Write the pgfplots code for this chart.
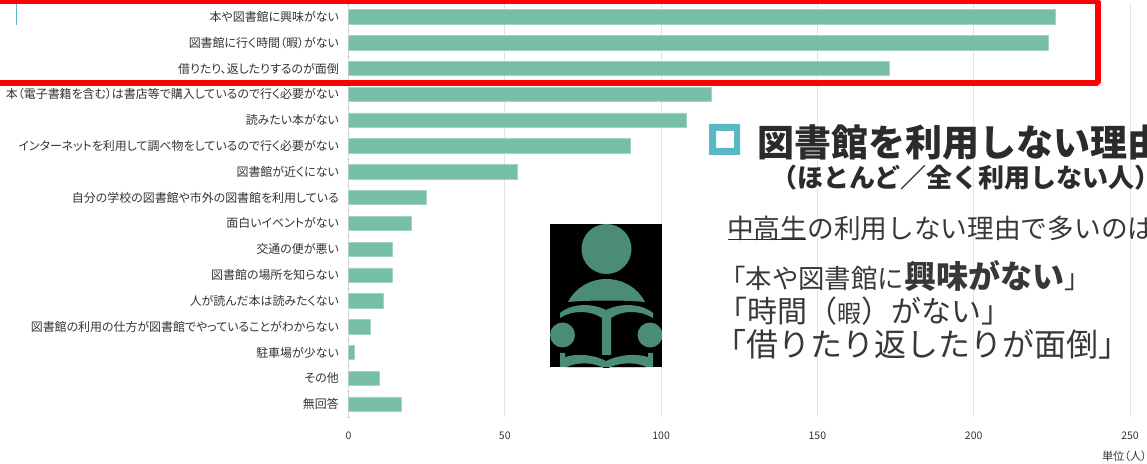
\documentclass[border=0pt]{standalone}
\usepackage{fontspec}
\setmainfont{Noto Sans CJK JP}
\newfontfamily\lab[RawFeature=+palt]{Noto Sans CJK JP}
\usepackage{pgfplots}
\pgfplotsset{compat=1.18}
\definecolor{barfill}{HTML}{77BEA6}
\definecolor{baredge}{HTML}{A5D4C3}
\definecolor{gridc}{HTML}{E2E2E2}
\definecolor{axisc}{HTML}{D9D9D9}
\definecolor{labelc}{HTML}{333333}
\definecolor{headc}{HTML}{2B2B2B}
\definecolor{bodyc}{HTML}{383838}
\definecolor{teal}{HTML}{5BB8C4}
\definecolor{iconc}{HTML}{4A8C75}
\begin{document}
\begin{tikzpicture}[x=1pt,y=1pt]
\clip (0,0) rectangle (1147,463);
\path[use as bounding box] (0,0) rectangle (1147,463);
\begin{axis}[
  at={(348.5pt,46pt)}, anchor=south west,
  scale only axis, width=781.5pt, height=413pt,
  xmin=0, xmax=250, ymin=-0.5, ymax=15.5,
  xbar, bar width=14.4pt,
  xtick={0,50,100,150,200,250},
  ytick={0,1,2,3,4,5,6,7,8,9,10,11,12,13,14,15},
  yticklabels={無回答,その他,駐車場が少ない,図書館の利用の仕方が図書館でやっていることがわからない,人が読んだ本は読みたくない,図書館の場所を知らない,交通の便が悪い,面白いイベントがない,自分の学校の図書館や市外の図書館を利用している,図書館が近くにない,インターネットを利用して調べ物をしているので行く必要がない,読みたい本がない,本（電子書籍を含む）は書店等で購入しているので行く必要がない,借りたり、返したりするのが面倒,図書館に行く時間（暇）がない,本や図書館に興味がない},
  minor ytick={-0.5,0.5,1.5,2.5,3.5,4.5,5.5,6.5,7.5,8.5,9.5,10.5,11.5,12.5,13.5,14.5,15.5},
  major tick length=0pt, minor tick length=3pt, tick align=outside, tick pos=left,
  minor tick style={draw=axisc},
  xmajorgrids, major grid style={draw=gridc, line width=0.9pt},
  axis lines=left, axis line style={-},
  x axis line style={draw=none},
  y axis line style={draw=axisc, line width=0.8pt},
  /pgf/number format/assume math mode=true,
  y tick label style={font=\lab\fontsize{11.95}{13}\selectfont, text=labelc, inner sep=0pt, xshift=-9.5pt},
  x tick label style={font=\fontsize{10.5}{12}\selectfont, text=labelc, inner sep=0pt, yshift=-15pt},
]
\addplot[fill=barfill, draw=baredge, line width=0.6pt] coordinates {
 (17,0) (10,1) (2,2) (7,3) (11,4) (14,5) (14,6) (20,7) (25,8) (54,9) (90,10) (108,11) (116,12) (173,13) (224,14) (226,15)};
\end{axis}
\begin{scope}[yshift=463pt, y=-1pt]
  % red frame
  \draw[red, line width=5.6pt, rounded corners=1.5pt] (-10,1) -- (1098,1) -- (1098,83) -- (-10,83);
  % small teal mark
  \draw[teal, line width=1.8pt] (16.5,4) -- (16.5,25);
  % icon
  \fill[black] (550,224) rectangle (662,367);
  \begin{scope}
    \clip (550,224) rectangle (662,367);
    \fill[iconc] (606.5,249) ellipse [x radius=25, y radius=25];
    \fill[iconc] (568,302) .. controls (575,288) and (590,279) .. (606.5,279) .. controls (623,279) and (638,288) .. (645,302) .. controls (625,300) and (590,300) .. (568,302) -- cycle;
    \fill[iconc] (560,313) .. controls (572,303) and (592,303) .. (606,310) .. controls (620,303) and (641,303) .. (653,313) -- (653,318) .. controls (640,310) and (622,310) .. (611,318) -- (611,355) -- (602,355) -- (602,318) .. controls (590,310) and (572,310) .. (560,318) -- cycle;
    \fill[iconc] (562.5,335) ellipse [x radius=12.5, y radius=12.5];
    \fill[iconc] (650,335) ellipse [x radius=12.5, y radius=12.5];
    \fill[iconc] (560,353) -- (565,353) -- (565,357) .. controls (578,353) and (595,355) .. (606,361) .. controls (618,355) and (635,353) .. (648,357) -- (648,353) -- (653,353) -- (653,367) -- (560,367) -- cycle;
    \fill[black] (567,367) .. controls (580,361) and (595,363) .. (606,369) .. controls (618,363) and (634,361) .. (646,367) -- cycle;
  \end{scope}
  % teal square
  \fill[teal, even odd rule] (709,124) rectangle (740,155) (716,131) rectangle (734,148);
  % text
  \node[anchor=west, inner sep=0pt, text=headc, font=\fontsize{37}{40}\selectfont\bfseries] at (757,142) {図書館を利用しない理由};
  \node[anchor=west, inner sep=0pt, text=headc, font=\fontsize{26}{30}\selectfont\bfseries] at (771,178) {（ほとんど／全く利用しない人）};
  \node[anchor=west, inner sep=0pt, text=bodyc, font=\fontsize{26.7}{30}\selectfont] at (727,228) {中高生の利用しない理由で多いのは};
  \draw[headc, line width=1pt] (728,240) -- (806,240);
  \node[anchor=west, inner sep=0pt, text=bodyc, font=\fontsize{26.4}{30}\selectfont] at (719,276) {「本や図書館に{\fontsize{32}{34}\selectfont\bfseries 興味がない}」};
  \node[anchor=west, inner sep=0pt, text=bodyc, font=\fontsize{30}{32}\selectfont] at (717,311) {「時間（{\fontsize{24}{30}\selectfont 暇}）がない」};
  \node[anchor=west, inner sep=0pt, text=bodyc, font=\fontsize{32}{34}\selectfont] at (714,344) {「借りたり返したりが面倒」};
  \node[anchor=east, inner sep=0pt, text=labelc, font=\lab\fontsize{11.2}{12}\selectfont] at (1147,456.5) {単位（人）};
\end{scope}
\end{tikzpicture}
\end{document}
